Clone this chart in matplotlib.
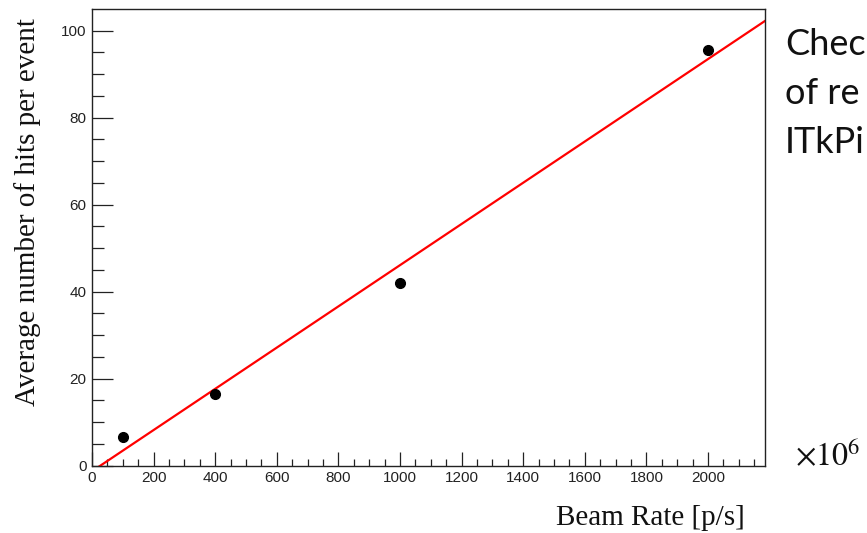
import numpy as np
import matplotlib as mpl
import matplotlib.pyplot as plt
from matplotlib.ticker import MultipleLocator

mpl.rcParams.update({
    "font.family": ["Liberation Sans", "DejaVu Sans"],
    "mathtext.fontset": "stix",
    "axes.linewidth": 1.0,
    "axes.edgecolor": "#222222",
    "xtick.direction": "in",
    "ytick.direction": "in",
    "xtick.color": "#222222",
    "ytick.color": "#222222",
    "xtick.labelsize": 11,
    "ytick.labelsize": 11,
})

# beam rate (x10^6 p/s) vs. average hits per event
beam_rate = np.array([100, 400, 1000, 2000])
avg_hits = np.array([6.6, 16.4, 42.0, 95.6])

slide_lines = ["Chec", "of re", "ITkPi"]

W, H = 867, 533
fig = plt.figure(figsize=(W / 100, H / 100), dpi=100)

# axes box in pixels: left, bottom spine, right, top spine
x0, yb, x1, yt = 92, 465.5, 765, 9
ax = fig.add_axes([x0 / W, (H - yb) / H, (x1 - x0) / W, (yb - yt) / H])

xmax = (x1 - x0) / 0.308
ymax = (yb - yt) / 4.348
ax.set_xlim(0, xmax)
ax.set_ylim(0, ymax)

# straight-line fit through the points
slope, icpt = np.polyfit(beam_rate, avg_hits, 1)
xf = np.array([0, xmax])
ax.plot(xf, slope * xf + icpt, color="red", lw=1.6, zorder=2)

ax.plot(beam_rate, avg_hits, "o", color="black", ms=7, zorder=3)

ax.xaxis.set_major_locator(MultipleLocator(200))
ax.xaxis.set_minor_locator(MultipleLocator(50))
ax.yaxis.set_major_locator(MultipleLocator(20))
ax.yaxis.set_minor_locator(MultipleLocator(5))
ax.set_xticks([t for t in range(0, 2001, 200)])
ax.tick_params(axis="x", which="major", length=10, width=0.9, pad=4)
ax.tick_params(axis="x", which="minor", length=5, width=0.9)
ax.tick_params(axis="y", which="major", length=15, width=0.9, pad=4)
ax.tick_params(axis="y", which="minor", length=8.5, width=0.9)
ax.tick_params(top=False, right=False, which="both")

serif = ["Liberation Serif", "DejaVu Serif"]
fig.text(745 / W, (H - 525) / H, "Beam Rate [p/s]", ha="right", va="baseline",
         fontsize=21, family=serif, color="#111111")
fig.text(28 / W, (H - 212) / H, "Average number of hits per event", rotation=90,
         ha="center", va="center", fontsize=21, family=serif, color="#111111")

fig.text(795 / W, (H - 465) / H, r"$\times10^{6}$", ha="left", va="baseline",
         fontsize=23, color="#111111")

for i, s in enumerate(slide_lines):
    fig.text(785 / W, (H - (55 + 49 * i)) / H, s, ha="left", va="baseline",
             fontsize=26, family=["Lato", "DejaVu Sans"], color="#111111")

fig.savefig("out.png", dpi=100)
